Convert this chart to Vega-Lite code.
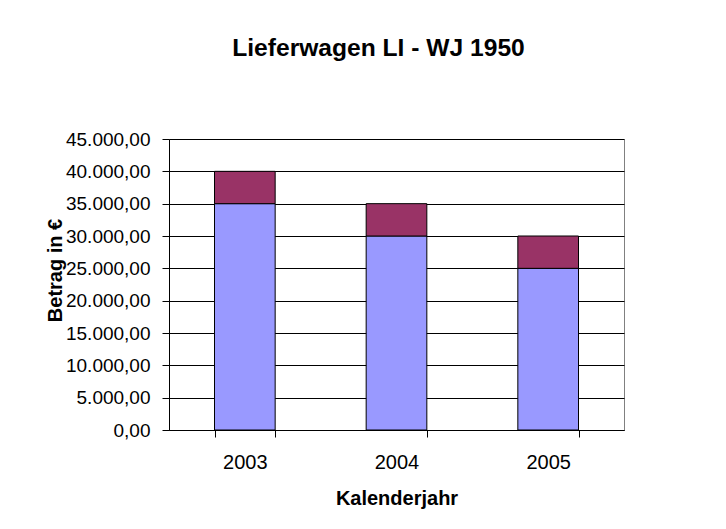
{
  "$schema": "https://vega.github.io/schema/vega-lite/v6.json",
  "width": 455,
  "height": 291,
  "autosize": {"type": "none"},
  "padding": {"left": 169, "top": 139, "right": 102, "bottom": 99},
  "background": "white",
  "title": {
    "text": "Lieferwagen LI - WJ 1950",
    "font": "Liberation Sans",
    "fontSize": 24.6,
    "fontWeight": "bold",
    "color": "black",
    "anchor": "middle",
    "frame": "group",
    "baseline": "alphabetic",
    "offset": 49,
    "dx": -18
  },
  "data": {
    "values": [
      {"Jahr": "2003", "Serie": "A", "Ordnung": 1, "Betrag": 35000},
      {"Jahr": "2003", "Serie": "B", "Ordnung": 2, "Betrag": 5000},
      {"Jahr": "2004", "Serie": "A", "Ordnung": 1, "Betrag": 30000},
      {"Jahr": "2004", "Serie": "B", "Ordnung": 2, "Betrag": 5000},
      {"Jahr": "2005", "Serie": "A", "Ordnung": 1, "Betrag": 25000},
      {"Jahr": "2005", "Serie": "B", "Ordnung": 2, "Betrag": 5000}
    ]
  },
  "mark": {"type": "bar", "stroke": "black", "strokeWidth": 1},
  "encoding": {
    "x": {
      "field": "Jahr",
      "type": "nominal",
      "scale": {"paddingInner": 0.6, "paddingOuter": 0.3},
      "axis": {
        "title": "Kalenderjahr",
        "labelAngle": 0,
        "tickBand": "extent",
        "tickSize": 7,
        "tickColor": "black",
        "domainColor": "black",
        "labelPadding": 15,
        "labelFont": "Liberation Sans",
        "labelFontSize": 20,
        "labelColor": "black",
        "titleFont": "Liberation Sans",
        "titleFontSize": 20,
        "titleFontWeight": "bold",
        "titleColor": "black",
        "titleBaseline": "alphabetic",
        "titleY": 74
      }
    },
    "y": {
      "field": "Betrag",
      "type": "quantitative",
      "stack": "zero",
      "scale": {"domain": [0, 45000], "nice": false},
      "axis": {
        "title": "Betrag in €",
        "values": [0, 5000, 10000, 15000, 20000, 25000, 30000, 35000, 40000, 45000],
        "format": ",.2f",
        "grid": true,
        "gridColor": "black",
        "gridWidth": 1,
        "tickSize": 7,
        "tickColor": "black",
        "domainColor": "black",
        "labelPadding": 12,
        "labelFont": "Liberation Sans",
        "labelFontSize": 19,
        "labelColor": "black",
        "titleFont": "Liberation Sans",
        "titleFontSize": 20,
        "titleFontWeight": "bold",
        "titleColor": "black",
        "titleAngle": -90,
        "titleBaseline": "middle",
        "titleX": -114,
        "titleY": 131
      }
    },
    "color": {
      "field": "Serie",
      "type": "nominal",
      "scale": {"domain": ["A", "B"], "range": ["#9999FF", "#993366"]},
      "legend": null
    },
    "order": {"field": "Ordnung", "type": "quantitative"}
  },
  "config": {
    "view": {"stroke": "#808080", "strokeWidth": 1},
    "locale": {
      "number": {
        "decimal": ",",
        "thousands": ".",
        "grouping": [3],
        "currency": ["", " €"]
      }
    }
  }
}
